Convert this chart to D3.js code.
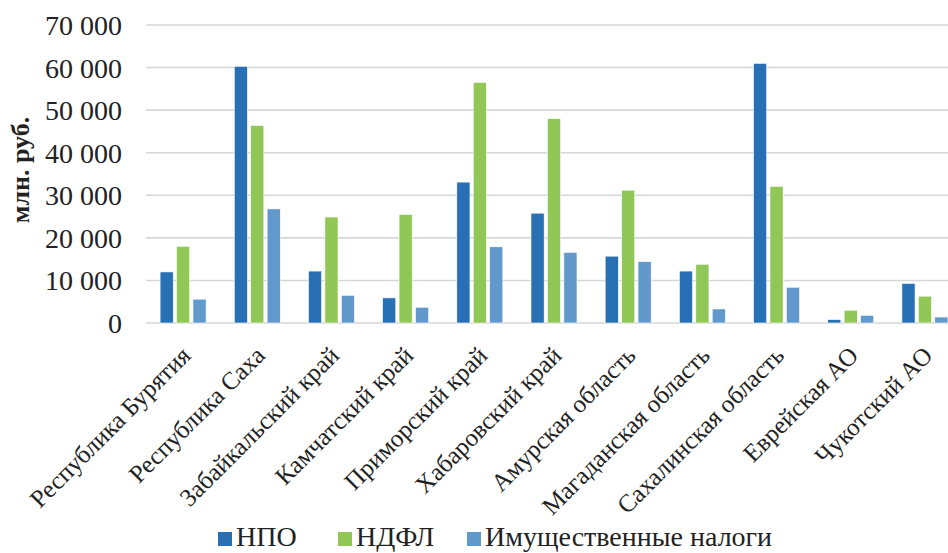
<!DOCTYPE html>
<html><head><meta charset="utf-8">
<script src="https://cdn.jsdelivr.net/npm/d3@7"></script>
<style>body{margin:0;background:#fff}svg{display:block}
text{font-family:"Liberation Serif","Tinos","DejaVu Serif","Noto Serif",serif}</style>
</head><body>
<svg id="c" width="948" height="553"></svg>
<script>
const categories = ["Республика Бурятия","Республика Саха","Забайкальский край","Камчатский край","Приморский край","Хабаровский край","Амурская область","Магаданская область","Сахалинская область","Еврейская АО","Чукотский АО"];
const seriesNames = ["НПО","НДФЛ","Имущественные налоги"];
const npo   = [12000, 60300, 12200, 5900, 33100, 25800, 15700, 12200, 61000, 800, 9300];
const ndfl  = [18000, 46400, 24900, 25500, 56500, 48000, 31200, 13800, 32100, 3000, 6300];
const imush = [5600, 26800, 6500, 3700, 17900, 16600, 14400, 3300, 8400, 1800, 1400];
const yTicks = [0, 10000, 20000, 30000, 40000, 50000, 60000, 70000];
const colors = ["#2870b4", "#90c757", "#6199cd"];
const yTitle = "млн. руб.";

const svg = d3.select("#c");
const pLeft = 146, pRight = 962, pTop = 25, pBottom = 323;

const x0 = d3.scaleBand().domain(categories).range([pLeft, pRight]);
const x1 = d3.scaleBand().domain(seriesNames).range([-23, 23]).paddingInner(0.2);
const y = d3.scaleLinear().domain([0, 70000]).range([pBottom, pTop]);

const fmt = v => d3.format(",")(v).replace(/,/g, " ");

// gridlines
svg.append("g").selectAll("line").data(yTicks).join("line")
  .attr("x1", pLeft).attr("x2", 948)
  .attr("y1", d => y(d)).attr("y2", d => y(d))
  .attr("stroke", "#d6d6d6").attr("stroke-width", 1.6);

// y axis labels
const yAxis = d3.axisLeft(y).tickValues(yTicks).tickFormat(fmt).tickSize(0).tickPadding(0);
const gy = svg.append("g").attr("transform", `translate(122,0)`).call(yAxis);
gy.select(".domain").remove();
gy.attr("font-family", null).attr("font-size", null);
gy.selectAll("text").style("font-size", "28px").attr("fill", "#222").attr("dy", "0.34em");

// y title
svg.append("text").attr("transform", "translate(29,170) rotate(-90)")
  .attr("text-anchor", "middle").style("font-weight", "bold")
  .style("font-size", "26px").attr("fill", "#222").text(yTitle);

// bars
const data = categories.map((c, i) => ({c, vals: [npo[i], ndfl[i], imush[i]]}));
const groups = svg.append("g").selectAll("g").data(data).join("g")
  .attr("transform", d => `translate(${x0(d.c) + x0.bandwidth() / 2},0)`);
groups.selectAll("rect").data(d => d.vals.map((v, k) => ({k, v}))).join("rect")
  .attr("x", d => x1(seriesNames[d.k]))
  .attr("width", x1.bandwidth())
  .attr("y", d => y(d.v))
  .attr("height", d => y(0) - y(d.v))
  .attr("fill", d => colors[d.k])
  .attr("stroke", "#fff").attr("stroke-width", 0.6);

// category labels
svg.append("g").selectAll("text").data(categories).join("text")
  .attr("transform", d => `translate(${x0(d) + x0.bandwidth() / 2 + 9},357) rotate(-45)`)
  .attr("text-anchor", "end").style("font-size", "25px")
  .attr("fill", "#222").text(d => d);

// legend
const legX = [218, 338, 467];
const leg = svg.append("g").selectAll("g").data(seriesNames).join("g")
  .attr("transform", (d, i) => `translate(${legX[i]},0)`);
leg.append("rect").attr("x", 0).attr("y", 532).attr("width", 14).attr("height", 14)
  .attr("fill", (d, i) => colors[i]);
leg.append("text").attr("x", 18).attr("y", 546)
  .style("font-size", "28px").attr("fill", "#222").text(d => d);
</script>
</body></html>
